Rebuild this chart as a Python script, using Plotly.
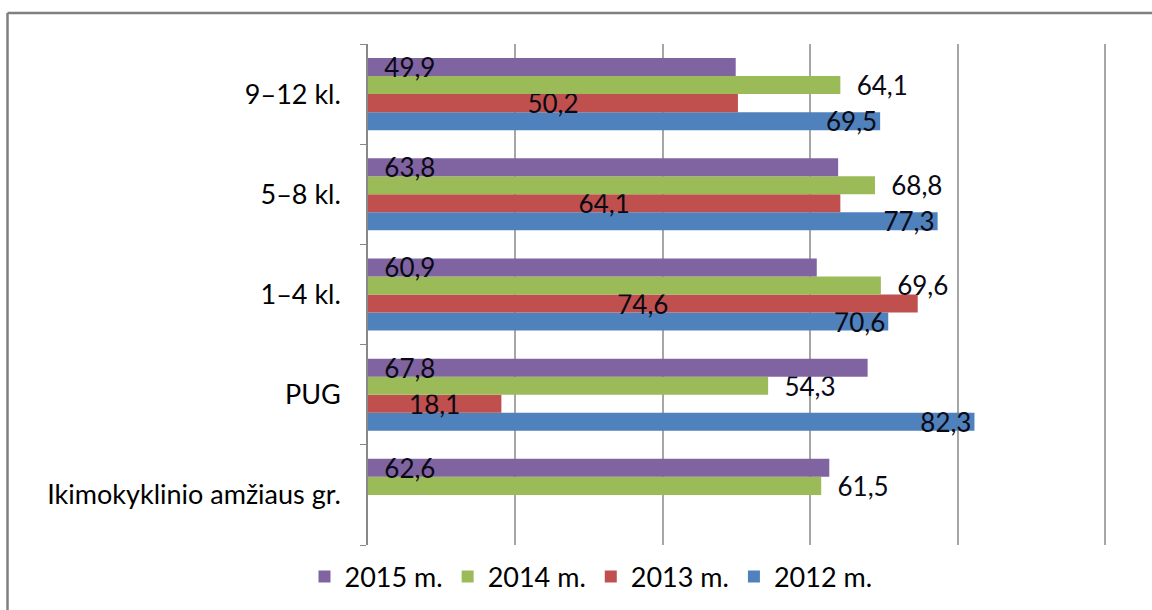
import plotly.graph_objects as go

categories = ["Ikimokyklinio amžiaus gr.", "PUG", "1–4 kl.", "5–8 kl.", "9–12 kl."]
series_names = ["2012 m.", "2013 m.", "2014 m.", "2015 m."]
v2012 = [None, 82.3, 70.6, 77.3, 69.5]
v2013 = [None, 18.1, 74.6, 64.1, 50.2]
v2014 = [61.5, 54.3, 69.6, 68.8, 64.1]
v2015 = [62.6, 67.8, 60.9, 63.8, 49.9]
x_ticks = [0, 20, 40, 60, 80, 100]

colors = {"2012 m.": "#4F81BD", "2013 m.": "#C0504D", "2014 m.": "#9BBB59", "2015 m.": "#8064A2"}
positions = {
    "2012 m.": ("inside", "end", ""),
    "2013 m.": ("inside", "middle", ""),
    "2014 m.": ("outside", "end", "\u00a0\u00a0"),
    "2015 m.": ("inside", "start", "\u00a0\u00a0"),
}
values = {"2012 m.": v2012, "2013 m.": v2013, "2014 m.": v2014, "2015 m.": v2015}

FONT = "Lato"
TXT = dict(family=FONT, size=26, color="#0a0a14")
fig = go.Figure()
for name in series_names:
    tp, anchor, pad = positions[name]
    fig.add_trace(go.Bar(
        y=categories, x=values[name], name=name, orientation="h",
        marker=dict(color=colors[name], line=dict(width=0)),
        texttemplate=pad + "%{x:.1f}", textposition=tp, insidetextanchor=anchor,
        textangle=0, constraintext="none", cliponaxis=False,
        textfont=TXT, outsidetextfont=TXT, insidetextfont=TXT,
    ))

W, H = 1152, 610
L, R, T, B = 368, 46, 44, 65
pw, ph = W - L - R, H - T - B

def px(x):
    return (x - L) / pw

def py(y):
    return (H - B - y) / ph

fig.update_layout(
    width=W, height=H, barmode="group", bargap=0.28, bargroupgap=0,
    separators=", ",
    paper_bgcolor="white", plot_bgcolor="white",
    margin=dict(l=L, r=R, t=T, b=B, autoexpand=False),
    font=dict(family=FONT, size=27, color="#000000"),
    showlegend=True,
    legend=dict(orientation="h", traceorder="reversed", x=px(591), xanchor="center",
                y=py(577), yanchor="middle", font=dict(size=27, family=FONT, color="#000000"),
                itemwidth=30, tracegroupgap=0, bgcolor="rgba(0,0,0,0)"),
    xaxis=dict(range=[0, 100.15], tickvals=x_ticks, showticklabels=False,
               showgrid=True, gridcolor="#A6A6A6", gridwidth=1.5,
               zeroline=False, showline=False, fixedrange=True, automargin=False),
    yaxis=dict(categoryorder="array", categoryarray=categories,
               tickson="boundaries", ticks="outside", ticklen=6, tickcolor="#888888",
               showline=True, linecolor="#888888", linewidth=1.5,
               ticklabelstandoff=20, tickfont=dict(size=27, family=FONT, color="#000000"),
               showgrid=False, fixedrange=True, automargin=False),
    shapes=[
        dict(type="line", xref="paper", yref="paper", x0=px(7.5), x1=px(1152), y0=py(13), y1=py(13),
             line=dict(color="#808080", width=2.5)),
        dict(type="line", xref="paper", yref="paper", x0=px(7.5), x1=px(7.5), y0=py(13), y1=py(612),
             line=dict(color="#808080", width=2.5)),
    ],
)
fig.write_html("out.html", config={"displayModeBar": False},
               post_script="document.body.style.margin='0';document.body.style.overflow='hidden';")
